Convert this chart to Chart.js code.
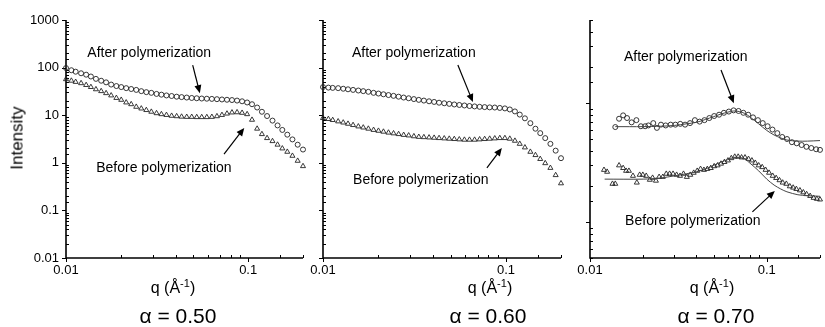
<!DOCTYPE html>
<html lang="en">
<head>
<meta charset="UTF-8">
<title>Scattering intensity before and after polymerization</title>
<style>
  html, body { margin: 0; padding: 0; background: #fff; overflow: hidden; }
  #wrap { position: relative; width: 825px; height: 327px; font-family: "Liberation Sans", Arial, sans-serif; color: #000; }
  #wrap canvas { position: absolute; left: 0; top: 0; }
  .lbl { position: absolute; white-space: nowrap; transform: translate(-50%, -50%); line-height: 1; }
  .qlbl { font-size: 16px; top: 287px; }
  .qlbl sup { font-size: 11px; }
  .alpha { font-size: 21px; top: 315px; }
  #ylab { font-size: 17px; left: 17px; top: 138px; transform: translate(-50%, -50%) rotate(-90deg); }
</style>
</head>
<body>
<div id="wrap">
  <canvas id="c50" width="825" height="327"></canvas>
  <canvas id="c60" width="825" height="327"></canvas>
  <canvas id="c70" width="825" height="327"></canvas>
  <div id="ylab" class="lbl">Intensity</div>
  <div class="lbl qlbl" style="left:173px">q (Å<sup>-1</sup>)</div>
  <div class="lbl qlbl" style="left:490px">q (Å<sup>-1</sup>)</div>
  <div class="lbl qlbl" style="left:712px">q (Å<sup>-1</sup>)</div>
  <div class="lbl alpha" style="left:178px">α = 0.50</div>
  <div class="lbl alpha" style="left:488px">α = 0.60</div>
  <div class="lbl alpha" style="left:716px">α = 0.70</div>
</div>

<script src="https://cdn.jsdelivr.net/npm/chart.js"></script>
<script>
// q grid shared by the alpha = 0.50 and 0.60 scans
const qMain = [0.0100, 0.0107, 0.0113, 0.0121, 0.0129, 0.0137, 0.0146, 0.0156, 0.0166, 0.0177, 0.0189, 0.0201,
  0.0214, 0.0228, 0.0243, 0.0259, 0.0276, 0.0294, 0.0314, 0.0334, 0.0356, 0.0380, 0.0405, 0.0431,
  0.0460, 0.0490, 0.0522, 0.0556, 0.0593, 0.0632, 0.0674, 0.0718, 0.0765, 0.0815, 0.0869, 0.0926,
  0.0987, 0.105, 0.112, 0.119, 0.127, 0.136, 0.145, 0.154, 0.164, 0.175, 0.187, 0.200];

// alpha = 0.50
const after050 = [98, 88, 82, 76, 71, 65, 58, 53, 49, 44, 41, 39,
  37, 35.5, 34, 32, 30.5, 29.5, 28, 27, 26, 25.3, 24.5, 24,
  23.5, 23, 22.7, 22.4, 22.2, 22, 21.7, 21.4, 21.1, 20.8, 20.3, 19.6,
  18.5, 17, 14.5, 11.8, 9.6, 7.7, 6.1, 4.9, 3.9, 3.1, 2.4, 1.9];
const before050 = [57, 53, 50, 47, 43, 39, 35, 32, 29, 26, 23, 21,
  18.5, 17, 15, 13.8, 12.8, 11.8, 11, 10.5, 10.1, 9.7, 9.5, 9.3,
  9.2, 9.2, 9.1, 9.1, 9.1, 9.2, 9.5, 10.1, 10.8, 11.4, 11.5, 11.2,
  10.5, 8.0, 5.2, 4.0, 3.3, 2.85, 2.4, 2.0, 1.7, 1.4, 1.1, 0.85];

// alpha = 0.60
const after060 = [39, 38, 37.5, 37, 36, 35, 34, 33, 32, 31, 29.5, 28.5,
  27.5, 26.5, 25.5, 24.5, 23.5, 22.7, 21.8, 21, 20.3, 19.6, 19, 18.3,
  17.8, 17.3, 16.8, 16.4, 16, 15.6, 15.3, 15, 14.8, 14.6, 14.5, 14.2,
  13.9, 13.2, 12, 10.3, 8.6, 6.8, 5.2, 4.2, 3.3, 2.5, 1.8, 1.25];
const before060 = [8.7, 8.3, 7.9, 7.4, 7.0, 6.6, 6.2, 5.8, 5.5, 5.2, 4.9, 4.7,
  4.5, 4.3, 4.15, 4.0, 3.85, 3.75, 3.6, 3.5, 3.45, 3.4, 3.35, 3.3,
  3.25, 3.2, 3.15, 3.1, 3.05, 3.05, 3.05, 3.1, 3.15, 3.2, 3.25, 3.3,
  3.3, 3.2, 2.9, 2.5, 2.1, 1.7, 1.45, 1.2, 0.98, 0.78, 0.55, 0.37];

// alpha = 0.70 (noisier data + model fits)
const qAfter070 = [0.0139, 0.0146, 0.0154, 0.0162, 0.0172, 0.0183, 0.0194, 0.0205, 0.0214, 0.0228, 0.0239, 0.0252,
  0.0268, 0.0286, 0.0304, 0.0324, 0.0345, 0.0368, 0.0392, 0.0417, 0.0444, 0.0473, 0.0504, 0.0537,
  0.0572, 0.0610, 0.0649, 0.0692, 0.0737, 0.0785, 0.0836, 0.0891, 0.0949, 0.1011, 0.1077, 0.1147,
  0.1222, 0.1302, 0.1387, 0.1477, 0.1574, 0.1676, 0.1786, 0.1902, 0.2000];
const after070 = [6.3, 7.4, 7.9, 7.5, 6.9, 7.2, 6.4, 6.4, 6.5, 6.8, 6.2, 6.6,
  6.5, 6.6, 6.6, 6.7, 6.6, 6.8, 7.2, 7.0, 7.2, 7.5, 7.8, 8.0,
  8.3, 8.5, 8.7, 8.6, 8.3, 8.0, 7.6, 7.2, 6.8, 6.4, 6.0, 5.6,
  5.2, 5.0, 4.7, 4.6, 4.45, 4.3, 4.2, 4.1, 4.05];
const qBefore070 = [0.0120, 0.0125, 0.0134, 0.0139, 0.0146, 0.0154, 0.0160, 0.0166, 0.0175, 0.0184, 0.0191, 0.0199,
  0.0208, 0.0218, 0.0226, 0.0236, 0.0246, 0.0258, 0.0270, 0.0282, 0.0295, 0.0309, 0.0323, 0.0338,
  0.0353, 0.0369, 0.0386, 0.0404, 0.0422, 0.0441, 0.0461, 0.0482, 0.0504, 0.0527, 0.0551, 0.0576,
  0.0603, 0.0630, 0.0659, 0.0689, 0.0720, 0.0753, 0.0788, 0.0824, 0.0861, 0.0900, 0.0942, 0.0985,
  0.103, 0.108, 0.113, 0.118, 0.123, 0.129, 0.135, 0.141, 0.147, 0.154, 0.161, 0.168, 0.176, 0.184, 0.192, 0.200];
const before070 = [2.75, 2.65, 2.1, 2.1, 3.0, 2.85, 2.7, 2.7, 2.45, 2.15, 2.5, 2.5,
  2.45, 2.27, 2.36, 2.23, 2.4, 2.4, 2.55, 2.55, 2.55, 2.5, 2.45, 2.55,
  2.4, 2.5, 2.6, 2.7, 2.8, 2.75, 2.8, 2.85, 2.95, 3.0, 3.1, 3.2,
  3.3, 3.45, 3.55, 3.55, 3.5, 3.5, 3.4, 3.3, 3.15, 3.0, 2.9, 2.75,
  2.6, 2.45, 2.35, 2.25, 2.15, 2.1, 2.0, 1.95, 1.9, 1.85, 1.78, 1.72, 1.66, 1.6, 1.57, 1.55];
const qFitAfter070 = [0.0139, 0.02, 0.025, 0.03, 0.035, 0.04, 0.045, 0.05, 0.055, 0.06, 0.065,
  0.07, 0.075, 0.08, 0.09, 0.1, 0.11, 0.12, 0.13, 0.15, 0.17, 0.2];
const fitAfter070 = [6.35, 6.35, 6.4, 6.5, 6.7, 6.9, 7.3, 7.7, 8.1, 8.4, 8.6,
  8.5, 8.2, 7.7, 6.7, 5.9, 5.4, 5.1, 4.9, 4.8, 4.8, 4.85];
const qFitBefore070 = [0.0121, 0.02, 0.025, 0.03, 0.035, 0.04, 0.045, 0.05, 0.055, 0.06, 0.065,
  0.07, 0.075, 0.08, 0.09, 0.1, 0.11, 0.12, 0.13, 0.15, 0.17, 0.2];
const fitBefore070 = [2.3, 2.3, 2.35, 2.45, 2.55, 2.65, 2.8, 3.0, 3.2, 3.35, 3.5,
  3.5, 3.4, 3.15, 2.7, 2.3, 2.05, 1.9, 1.8, 1.7, 1.67, 1.65];

// arrow annotations, in data coordinates [q, I]
const notes050 = [
  { text: 'After polymerization', at: [0.0131, 200], from: [0.0496, 113], to: [0.0543, 29] },
  { text: 'Before polymerization', at: [0.01465, 0.78], from: [0.0737, 1.53], to: [0.0952, 5.4] }
];
const notes060 = [
  { text: 'After polymerization', at: [0.0144, 200], from: [0.0546, 113], to: [0.066, 18.9] },
  { text: 'Before polymerization', at: [0.0146, 0.435], from: [0.0787, 0.78], to: [0.095, 2.05] }
];
const notes070 = [
  { text: 'After polymerization', at: [0.01556, 24.6], from: [0.0551, 19], to: [0.0651, 10] },
  { text: 'Before polymerization', at: [0.0158, 1.02], from: [0.0829, 1.22], to: [0.111, 1.83] }
];

const FONT = '"Liberation Sans", Arial, sans-serif';
Chart.defaults.font.family = FONT;
Chart.defaults.color = '#000';

const isDecade = v => Math.abs(Math.log10(v) - Math.round(Math.log10(v))) < 1e-6;
const decadeLabel = v => {
  if (!isDecade(v)) return '';
  const p = Math.round(Math.log10(v));
  return p < 0 ? Math.pow(10, p).toFixed(-p) : String(Math.pow(10, p));
};
const pts = (xs, ys) => xs.map((x, i) => ({ x: x, y: ys[i] }));

// axis lines with outward major ticks and inward minor ticks
const frame = {
  id: 'frame',
  beforeDatasetsDraw(chart) {
    const { ctx, chartArea: a, scales: { x, y } } = chart;
    ctx.save();
    ctx.strokeStyle = '#000';
    ctx.lineWidth = 1.6;
    ctx.beginPath();
    ctx.moveTo(a.left, a.top);
    ctx.lineTo(a.left, a.bottom);
    ctx.lineTo(a.right, a.bottom);
    ctx.stroke();
    ctx.lineWidth = 1;
    y.ticks.forEach(t => {
      const py = Math.round(y.getPixelForValue(t.value)) + 0.5;
      ctx.beginPath();
      if (isDecade(t.value)) { ctx.moveTo(a.left - 4, py); ctx.lineTo(a.left, py); }
      else { ctx.moveTo(a.left, py); ctx.lineTo(a.left + 3, py); }
      ctx.stroke();
    });
    x.ticks.forEach(t => {
      const px = Math.round(x.getPixelForValue(t.value)) + 0.5;
      ctx.beginPath();
      if (isDecade(t.value)) { ctx.moveTo(px, a.bottom); ctx.lineTo(px, a.bottom + 4); }
      else { ctx.moveTo(px, a.bottom); ctx.lineTo(px, a.bottom - 3); }
      ctx.stroke();
    });
    ctx.restore();
  }
};

// text + arrow callouts
const annotate = {
  id: 'annotate',
  afterDatasetsDraw(chart, args, opts) {
    const { ctx, scales: { x, y } } = chart;
    ctx.save();
    ctx.font = '14px ' + FONT;
    ctx.fillStyle = '#000';
    ctx.strokeStyle = '#000';
    ctx.textBaseline = 'middle';
    (opts.notes || []).forEach(n => {
      ctx.fillText(n.text, x.getPixelForValue(n.at[0]), y.getPixelForValue(n.at[1]));
      const x0 = x.getPixelForValue(n.from[0]), y0 = y.getPixelForValue(n.from[1]);
      const x1 = x.getPixelForValue(n.to[0]), y1 = y.getPixelForValue(n.to[1]);
      const ang = Math.atan2(y1 - y0, x1 - x0);
      const head = 8, half = 3.5;
      const c = Math.cos(ang), s = Math.sin(ang);
      ctx.lineWidth = 1.2;
      ctx.beginPath();
      ctx.moveTo(x0, y0);
      ctx.lineTo(x1 - head * c * 0.8, y1 - head * s * 0.8);
      ctx.stroke();
      ctx.beginPath();
      ctx.moveTo(x1, y1);
      ctx.lineTo(x1 - head * c + half * s, y1 - head * s - half * c);
      ctx.lineTo(x1 - head * c - half * s, y1 - head * s + half * c);
      ctx.closePath();
      ctx.fill();
    });
    ctx.restore();
  }
};

const circles = data => ({ data, pointStyle: 'circle', pointRadius: 2.5, borderWidth: 0.9,
  borderColor: '#222', backgroundColor: 'rgba(0,0,0,0)', showLine: false, clip: false });
const triangles = data => ({ data, pointStyle: 'triangle', pointRadius: 2.9, borderWidth: 0.9,
  borderColor: '#222', backgroundColor: 'rgba(0,0,0,0)', showLine: false, clip: false });
const fitLine = data => ({ data, showLine: true, pointRadius: 0, borderWidth: 1,
  borderColor: '#444', tension: 0.3, clip: false });

// yWidth = room kept for the y tick labels (labels are clipped to the scale box)
function makePanel(id, padLeft, yWidth, padRight, yMin, yMax, showY, datasets, notes) {
  return new Chart(document.getElementById(id), {
    type: 'scatter',
    data: { datasets },
    options: {
      responsive: false,
      animation: false,
      layout: { padding: { left: padLeft, right: padRight, top: 20, bottom: 0 } },
      plugins: { legend: { display: false }, tooltip: { enabled: false }, annotate: { notes } },
      scales: {
        x: {
          type: 'logarithmic', min: 0.01, max: 0.2,
          grid: { display: false, drawTicks: false }, border: { display: false },
          ticks: { autoSkip: false, maxRotation: 0, minRotation: 0, padding: 5, color: '#000',
            font: { size: 13 }, callback: decadeLabel },
          afterFit: s => { s.height = 69; }
        },
        y: {
          type: 'logarithmic', min: yMin, max: yMax,
          grid: { display: false, drawTicks: false }, border: { display: false },
          ticks: { display: showY, autoSkip: false, padding: 7, color: '#000',
            font: { size: 13 }, callback: decadeLabel },
          afterFit: s => { s.width = yWidth; }
        }
      }
    },
    plugins: [frame, annotate]
  });
}

makePanel('c50', 0, 66, 522, 0.01, 1000, true,
  [circles(pts(qMain, after050)), triangles(pts(qMain, before050))], notes050);
makePanel('c60', 323, 0, 264, 0.01, 1000, false,
  [circles(pts(qMain, after060)), triangles(pts(qMain, before060))], notes060);
makePanel('c70', 590, 0, 0, 0.5, 50, false,
  [fitLine(pts(qFitAfter070, fitAfter070)), fitLine(pts(qFitBefore070, fitBefore070)),
   circles(pts(qAfter070, after070)), triangles(pts(qBefore070, before070))], notes070);
</script>
</body>
</html>
